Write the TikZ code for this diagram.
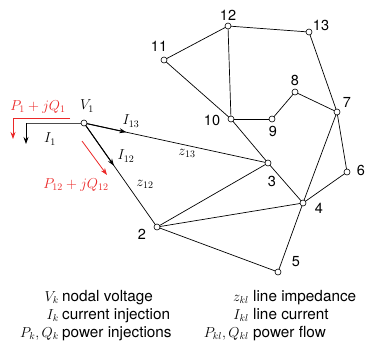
\documentclass[tikz,border=0pt]{standalone}
\usepackage{fontspec}
\newfontfamily\hel{TeX Gyre Heros}
\usetikzlibrary{arrows.meta,calc}
\definecolor{pred}{RGB}{235,40,40}
\tikzset{
  bus/.style={circle,draw=black,fill=white,line width=0.6pt,inner sep=0pt,minimum size=6pt},
  line/.style={line width=0.7pt,black},
  num/.style={font=\hel\fontsize{14.5}{16}\selectfont,inner sep=0pt},
  mlab/.style={font=\fontsize{14}{16}\selectfont,inner sep=0pt},
  rlab/.style={font=\fontsize{14}{16}\selectfont,inner sep=0pt,text=pred},
  leg/.style={font=\hel\fontsize{15.3}{17}\selectfont,inner sep=0pt},
  tip/.style={-{Stealth[length=7pt,width=5pt]}},
}
\begin{document}
\begin{tikzpicture}[x=1pt,y=-1pt]
\useasboundingbox (0,0) rectangle (366,343);
% coordinates
\coordinate (p1) at (84,123);
\coordinate (p2) at (157,227);
\coordinate (p3) at (268,163);
\coordinate (p4) at (303,203);
\coordinate (p5) at (278,272);
\coordinate (p6) at (347,172);
\coordinate (p7) at (337,112);
\coordinate (p8) at (295,92);
\coordinate (p9) at (272,119);
\coordinate (p10) at (231,119);
\coordinate (p11) at (164,60);
\coordinate (p12) at (228,26);
\coordinate (p13) at (309,32);
% lines
\draw[line] (p2) -- (p3);
\draw[line] (p2) -- (p4);
\draw[line] (p2) -- (p5);
\draw[line] (p3) -- (p4);
\draw[line] (p3) -- (p10);
\draw[line] (p4) -- (p5);
\draw[line] (p4) -- (p6);
\draw[line] (p4) -- (p7);
\draw[line] (p6) -- (p7);
\draw[line] (p7) -- (p13);
\draw[line] (p7) -- (p8);
\draw[line] (p8) -- (p9);
\draw[line] (p9) -- (p10);
\draw[line] (p10) -- (p12);
\draw[line] (p10) -- (p11);
\draw[line] (p11) -- (p12);
\draw[line] (p12) -- (p13);
\draw[line] (p1) -- (p3);
\draw[line] (p1) -- (p2);
% current arrows
\draw[line,line width=1pt,tip] (p1) -- ($(p1)!0.23!(p3)$);
\draw[line,line width=1pt,tip] (p1) -- ($(p1)!0.41!(p2)$);
% injection
\coordinate (i1c) at (26,123);
\coordinate (i1e) at (26,144);
\draw[line width=0.8pt,black!70] (p1) -- (i1c);
\draw[line width=0.8pt,tip] (i1c) -- (i1e);
\coordinate (r1a) at (70,118);
\coordinate (r1c) at (13,118);
\coordinate (r1e) at (13,139);
\draw[pred,line width=0.8pt] (r1a) -- (r1c);
\draw[pred,line width=0.8pt,tip] (r1c) -- (r1e);
\coordinate (r2a) at (82,141);
\coordinate (r2e) at (107,175);
\draw[pred,line width=0.8pt,tip] (r2a) -- (r2e);
% buses
\foreach \i in {1,...,13} \node[bus] (b\i) at (p\i) {};
% bus numbers
\node[num] (n2) at (142,234) {2};
\node[num] (n3) at (272,181) {3};
\node[num] (n4) at (319,208) {4};
\node[num] (n5) at (296,262) {5};
\node[num] (n6) at (361,170) {6};
\node[num] (n7) at (347,102) {7};
\node[num] (n8) at (295,80) {8};
\node[num] (n9) at (273,131) {9};
\node[num] (n10) at (212,120) {10};
\node[num] (n11) at (159,46) {11};
\node[num] (n12) at (228,15) {12};
\node[num] (n13) at (321,25) {13};
% math labels
\node[mlab] (v1) at (87,106) {$V_1$};
\node[mlab] (li1) at (50,139) {$I_1$};
\node[mlab] (li13) at (131,121) {$I_{13}$};
\node[mlab] (li12) at (126,156) {$I_{12}$};
\node[mlab] (lz13) at (187,153) {$z_{13}$};
\node[mlab] (lz12) at (145,184) {$z_{12}$};
\node[rlab] (lp1) at (38,107) {$P_1+jQ_1$};
\node[rlab] (lp12) at (76,185) {$P_{12}+jQ_{12}$};
% legend
\node[mlab,anchor=base east] (s1) at (59,301) {$V_k$};
\node[leg,anchor=base west] (d1) at (62,301) {nodal voltage};
\node[mlab,anchor=base east] (s2) at (59,319) {$I_k$};
\node[leg,anchor=base west] (d2) at (62,319) {current injection};
\node[mlab,anchor=base east] (s3) at (59,337) {$P_k,Q_k$};
\node[leg,anchor=base west] (d3) at (62,337) {power injections};
\node[mlab,anchor=base east] (s4) at (249,301) {$z_{kl}$};
\node[leg,anchor=base west] (d4) at (253,301) {line impedance};
\node[mlab,anchor=base east] (s5) at (249,319) {$I_{kl}$};
\node[leg,anchor=base west] (d5) at (253,319) {line current};
\node[mlab,anchor=base east] (s6) at (249,337) {$P_{kl},Q_{kl}$};
\node[leg,anchor=base west] (d6) at (253,337) {power flow};
\end{tikzpicture}
\end{document}
